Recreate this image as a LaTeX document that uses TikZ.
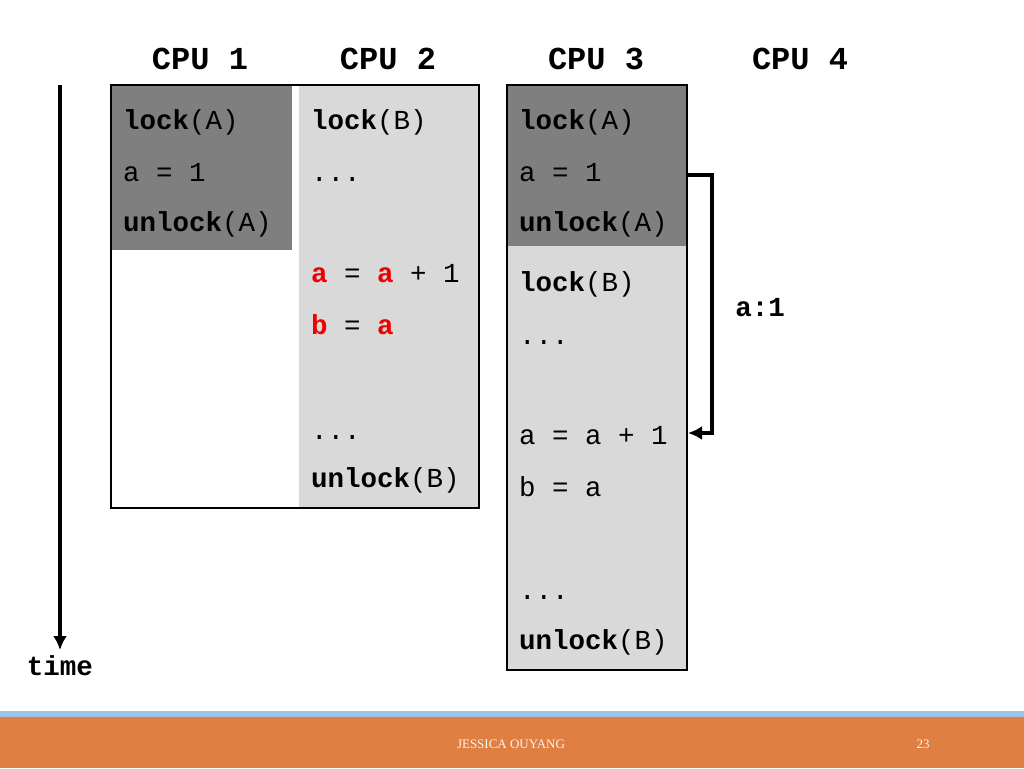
\documentclass[tikz,border=0pt]{standalone}
\usepackage{fontspec}
\usetikzlibrary{arrows.meta}
\setmonofont{Liberation Mono}
\setmainfont{Liberation Serif}
\begin{document}
\begin{tikzpicture}[x=1pt,y=-1pt,
  code/.style={anchor=base west,inner sep=0pt,font=\fontsize{27.5}{30}\ttfamily},
  head/.style={anchor=base,inner sep=0pt,font=\fontsize{32}{36}\ttfamily\bfseries},
  arr/.style={line width=4pt,-{Latex[length=14pt,width=14pt]}}]
\useasboundingbox (0,0) rectangle (1024,768);
\definecolor{dgray}{HTML}{7F7F7F}
\definecolor{lgray}{HTML}{D9D9D9}
\definecolor{orng}{HTML}{E07F42}
\definecolor{lblue}{HTML}{9DC3E6}
\definecolor{redc}{HTML}{F00000}
% boxes
\fill[dgray] (111,85) rectangle (292,250);
\fill[lgray] (299,85) rectangle (479,508);
\draw[line width=1.2pt] (111,85) rectangle (479,508);
\fill[lgray] (507,85) rectangle (687,670);
\fill[dgray] (507,85) rectangle (687,246);
\draw[line width=1.2pt] (507,85) rectangle (687,670);
% headers
\node[head] (h1) at (200,70) {CPU 1};
\node[head] (h2) at (388,70) {CPU 2};
\node[head] (h3) at (596,70) {CPU 3};
\node[head] (h4) at (800,70) {CPU 4};
% CPU1
\node[code] (a1) at (123,129) {\textbf{lock}(A)};
\node[code] (a2) at (123,181) {a = 1};
\node[code] (a3) at (123,231) {\textbf{unlock}(A)};
% CPU2
\node[code] (b1) at (311,129) {\textbf{lock}(B)};
\node[code] (b2) at (311,181) {...};
\node[code] (b3) at (311,282) {\textcolor{redc}{\textbf{a}} = \textcolor{redc}{\textbf{a}} + 1};
\node[code] (b4) at (311,334) {\textcolor{redc}{\textbf{b}} = \textcolor{redc}{\textbf{a}}};
\node[code] (b5) at (311,439) {...};
\node[code] (b6) at (311,487) {\textbf{unlock}(B)};
% CPU3
\node[code] (c1) at (519,129) {\textbf{lock}(A)};
\node[code] (c2) at (519,181) {a = 1};
\node[code] (c3) at (519,231) {\textbf{unlock}(A)};
\node[code] (c4) at (519,291) {\textbf{lock}(B)};
\node[code] (c5) at (519,344) {...};
\node[code] (c6) at (519,444) {a = a + 1};
\node[code] (c7) at (519,496) {b = a};
\node[code] (c8) at (519,599) {...};
\node[code] (c9) at (519,649) {\textbf{unlock}(B)};
% bracket arrow
\coordinate (s) at (687,175);
\coordinate (e) at (688,433);
\draw[arr] (s) -- (712,175) -- (712,433) -- (e);
\node[code,anchor=base] (lab) at (760,316) {\textbf{a:1}};
% time
\coordinate (t0) at (60,85);
\coordinate (t1) at (60,650);
\draw[arr] (t0) -- (t1);
\node[code,anchor=base] (time) at (60,675) {\textbf{time}};
% footer
\fill[lblue] (0,711) rectangle (1024,717);
\fill[orng] (0,717) rectangle (1024,768);
\node[font=\fontsize{13}{14}\selectfont,text=white!90!orng] (ft) at (511,744) {JESSICA OUYANG};
\node[font=\fontsize{13}{14}\selectfont,text=white!90!orng] (pg) at (923,744) {23};
\end{tikzpicture}
\end{document}
